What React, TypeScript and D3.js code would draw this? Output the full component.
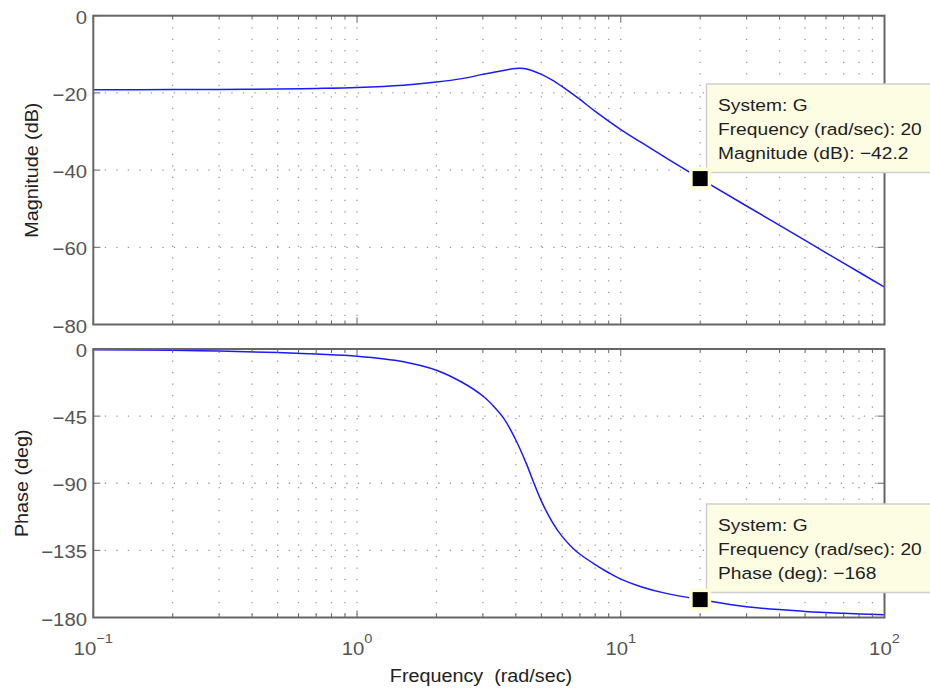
import React from "react";
import * as d3 from "d3";

// ---- data ----
const magFreq = [0.1, 0.2, 0.3, 0.5, 0.7, 1, 1.5, 2, 2.5, 3, 3.5, 4, 4.3, 4.6, 5, 5.5, 6, 7, 8, 10, 12, 15, 20, 30, 50, 70, 100];
const magnitudeDb = [-19.2, -19.15, -19.1, -19.0, -18.85, -18.6, -18.0, -17.2, -16.3, -15.2, -14.3, -13.65, -13.7, -14.2, -15.2, -16.7, -18.4, -21.7, -24.8, -29.5, -32.9, -37.0, -42.2, -49.3, -58.2, -64.1, -70.3];

const phaseFreq = [0.1, 0.2, 0.3, 0.5, 0.7, 1, 1.5, 2, 2.5, 3, 3.3, 3.6, 4, 4.4, 4.7, 5, 5.5, 6, 6.6, 7, 8, 9, 10, 12, 15, 20, 30, 50, 70, 100];
const phaseDeg = [-0.5, -0.9, -1.4, -2.4, -3.4, -4.8, -8.5, -14.2, -22.3, -31.5, -38.5, -46.5, -61, -77.5, -90.5, -102, -116, -125.8, -133.7, -137.6, -144.5, -150, -154.3, -159.5, -164, -168, -172.8, -175.9, -177.2, -178.2];

const magTicks = [0, -20, -40, -60, -80];
const phaseTicks = [0, -45, -90, -135, -180];
const decadeTicks = [0.1, 1, 10, 100];
const decadeExponents = ["\u22121", "0", "1", "2"];

const markerFreq = 20;
const markerMag = -42.2;
const markerPhase = -168;
const magTipLines = ["System: G", "Frequency (rad/sec): 20", "Magnitude (dB): \u221242.2"];
const phaseTipLines = ["System: G", "Frequency (rad/sec): 20", "Phase (deg): \u2212168"];

const FONT = "'Liberation Sans', Arial, Helvetica, sans-serif";
const SX = 1.13;

function T({ x, y, anchor = "start", size = 18, fill = "#222", rotate = 0, children }: any) {
  return (
    <text
      transform={`translate(${x},${y})${rotate ? ` rotate(${rotate})` : ""} scale(${SX},1)`}
      textAnchor={anchor}
      fontSize={size}
      fontFamily={FONT}
      fill={fill}
    >
      {children}
    </text>
  );
}

const fmt = (v: number) => (v < 0 ? "\u2212" + Math.abs(v) : String(v));

export default function App() {
  const left = 93.3, right = 884.5;
  const magTop = 15.7, magBottom = 324.5;
  const phTop = 349, phBottom = 617.5;

  const x = d3.scaleLog().domain([0.1, 100]).range([left, right]);
  const yMag = d3.scaleLinear().domain([-80, 0]).range([magBottom, magTop]);
  const yPh = d3.scaleLinear().domain([-180, 0]).range([phBottom, phTop]);

  const allX = x.ticks();
  const innerX = allX.filter((t) => t > 0.1 + 1e-9 && t < 100 - 1e-9);
  const isDecade = (t: number) => Math.abs(Math.log10(t) - Math.round(Math.log10(t))) < 1e-6;

  const magLine = d3
    .line<number>()
    .x((_, i) => x(magFreq[i]))
    .y((d) => yMag(d))
    .curve(d3.curveCatmullRom.alpha(0.5));
  const phLine = d3
    .line<number>()
    .x((_, i) => x(phaseFreq[i]))
    .y((d) => yPh(d))
    .curve(d3.curveCatmullRom.alpha(0.5));

  const gridStyle = { stroke: "#9a9a9a", strokeWidth: 1.3, strokeDasharray: "1.3 10.2" };
  const axisColor = "#666";

  const panel = (top: number, bottom: number, y: any, ticks: number[], path: string, clipId: string) => (
    <g>
      <defs>
        <clipPath id={clipId}>
          <rect x={left} y={top} width={right - left} height={bottom - top} />
        </clipPath>
      </defs>
      {innerX.map((t, i) => (
        <line key={"gx" + i} x1={x(t)} x2={x(t)} y1={top} y2={bottom} style={gridStyle} />
      ))}
      {ticks.slice(1, -1).map((t, i) => (
        <line key={"gy" + i} x1={left} x2={right} y1={y(t)} y2={y(t)} style={gridStyle} />
      ))}
      <path d={path} fill="none" stroke="#1a1aff" strokeWidth={1.5} clipPath={`url(#${clipId})`} />
      <rect x={left} y={top} width={right - left} height={bottom - top} fill="none" stroke={axisColor} strokeWidth={2} />
      {allX.map((t, i) => {
        const len = isDecade(t) ? 7 : 4;
        return (
          <g key={"xt" + i}>
            <line x1={x(t)} x2={x(t)} y1={bottom} y2={bottom - len} stroke={axisColor} strokeWidth={1} />
            <line x1={x(t)} x2={x(t)} y1={top} y2={top + len} stroke={axisColor} strokeWidth={1} />
          </g>
        );
      })}
      {ticks.map((t, i) => (
        <g key={"yt" + i}>
          <line x1={left} x2={left + 7} y1={y(t)} y2={y(t)} stroke={axisColor} strokeWidth={1} />
          <line x1={right} x2={right - 7} y1={y(t)} y2={y(t)} stroke={axisColor} strokeWidth={1} />
          <T x={87} y={y(t) + 8} anchor="end" size={18} fill="#555">
            {fmt(t)}
          </T>
        </g>
      ))}
    </g>
  );

  const marker = (cx: number, cy: number) => (
    <g>
      <rect x={cx - 11} y={cy - 11} width={22} height={22} fill="#ffffd6" />
      <rect x={cx - 7.5} y={cy - 7.5} width={15} height={15} fill="#000" />
    </g>
  );

  const tooltip = (top: number, lines: string[]) => (
    <g>
      <rect x={706.5} y={top} width={240} height={88.5} fill="#fdfde3" stroke="#cfcfcf" strokeWidth={1.5} />
      {lines.map((s, i) => (
        <T key={i} x={718} y={top + 26.5 + i * 24} size={17} fill="#1e1e1e">
          {s}
        </T>
      ))}
    </g>
  );

  return (
    <div>
      <style>{`body{margin:0;background:#fff}`}</style>
      <svg width={930} height={688} style={{ display: "block", background: "#fff" }}>
        {panel(magTop, magBottom, yMag, magTicks, magLine(magnitudeDb) || "", "clipMag")}
        {panel(phTop, phBottom, yPh, phaseTicks, phLine(phaseDeg) || "", "clipPh")}

        {decadeTicks.map((t, i) => (
          <text
            key={"xl" + i}
            transform={`translate(${x(t)},655) scale(${SX},1)`}
            textAnchor="middle"
            fontFamily={FONT}
            fill="#555"
            fontSize={18}
          >
            <tspan>10</tspan>
            <tspan dy={-12} fontSize={13}>
              {decadeExponents[i]}
            </tspan>
          </text>
        ))}

        <T x={481} y={682} anchor="middle" size={17.5}>
          {"Frequency\u00a0\u00a0(rad/sec)"}
        </T>
        <T x={38} y={(magTop + magBottom) / 2} anchor="middle" size={17.5} rotate={-90}>
          Magnitude (dB)
        </T>
        <T x={28} y={(phTop + phBottom) / 2} anchor="middle" size={17.5} rotate={-90}>
          Phase (deg)
        </T>

        {tooltip(84, magTipLines)}
        {tooltip(504, phaseTipLines)}
        {marker(x(markerFreq), yMag(markerMag))}
        {marker(x(markerFreq), yPh(markerPhase))}
      </svg>
    </div>
  );
}
